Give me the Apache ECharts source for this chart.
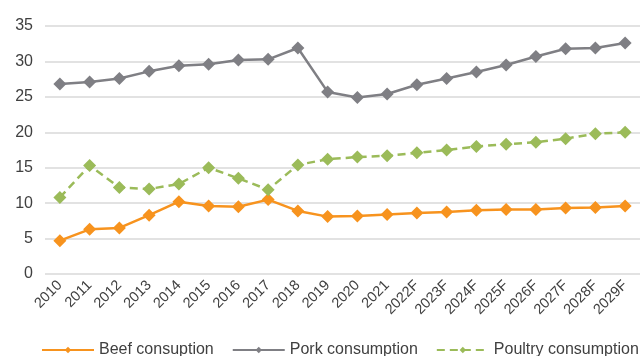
<!DOCTYPE html>
<html><head><meta charset="utf-8">
<script src="https://cdn.jsdelivr.net/npm/echarts@6/dist/echarts.min.js"></script>
<style>html,body{margin:0;padding:0;background:#fff}#c{width:640px;height:356px}</style>
</head><body><div id="c"></div>
<script>
const categories = ['2010','2011','2012','2013','2014','2015','2016','2017','2018','2019','2020','2021','2022F','2023F','2024F','2025F','2026F','2027F','2028F','2029F'];
const beef = [4.7,6.3,6.5,8.3,10.2,9.6,9.5,10.5,8.9,8.1,8.2,8.4,8.6,8.75,9.0,9.1,9.1,9.3,9.4,9.6];
const pork = [26.8,27.1,27.6,28.6,29.4,29.6,30.2,30.3,31.9,25.7,24.9,25.4,26.7,27.6,28.5,29.5,30.7,31.8,31.9,32.6];
const poultry = [10.8,15.3,12.2,12.0,12.7,15.0,13.5,11.9,15.4,16.2,16.5,16.7,17.1,17.5,18.0,18.3,18.6,19.1,19.8,20.0];
const seriesNames = ['Beef consuption','Pork consumption','Poultry consumption'];
const yTicks = [0,5,10,15,20,25,30,35];

const chart = echarts.init(document.getElementById('c'), null, {renderer:'canvas'});
const font = 'Liberation Sans, Arial, sans-serif';
function mk(name, data, color, dashed){
  return {name, type:'line', data, symbol:'diamond', symbolSize:13,
    itemStyle:{color}, lineStyle:{color, width:2.5, type: dashed ? [8,5] : 'solid'},
    animation:false};
}
chart.setOption({
  animation:false,
  grid:{left:45, top:26, width:602, height:248, containLabel:false},
  xAxis:{type:'category', data:categories, boundaryGap:true,
    axisLine:{show:false}, axisTick:{show:false},
    axisLabel:{rotate:45, color:'#404040', fontSize:14.5, fontFamily:font, margin:9, interval:0}},
  yAxis:{type:'value', min:yTicks[0], max:yTicks[yTicks.length-1], interval:5,
    axisLine:{show:false}, axisTick:{show:false},
    axisLabel:{color:'#404040', fontSize:16, fontFamily:font, margin:12},
    splitLine:{lineStyle:{color:'#d9d9d9', width:1.5}}},
  legend:{left:41, top:342, width:640, padding:0, itemWidth:52, itemHeight:8, itemGap:18,
    textStyle:{color:'#404040', fontSize:16, fontFamily:font},
    data:seriesNames},
  series:[
    mk(seriesNames[0], beef, '#F7931E', false),
    mk(seriesNames[1], pork, '#7F7F84', false),
    mk(seriesNames[2], poultry, '#9BBB59', true)
  ]
});
</script></body></html>
